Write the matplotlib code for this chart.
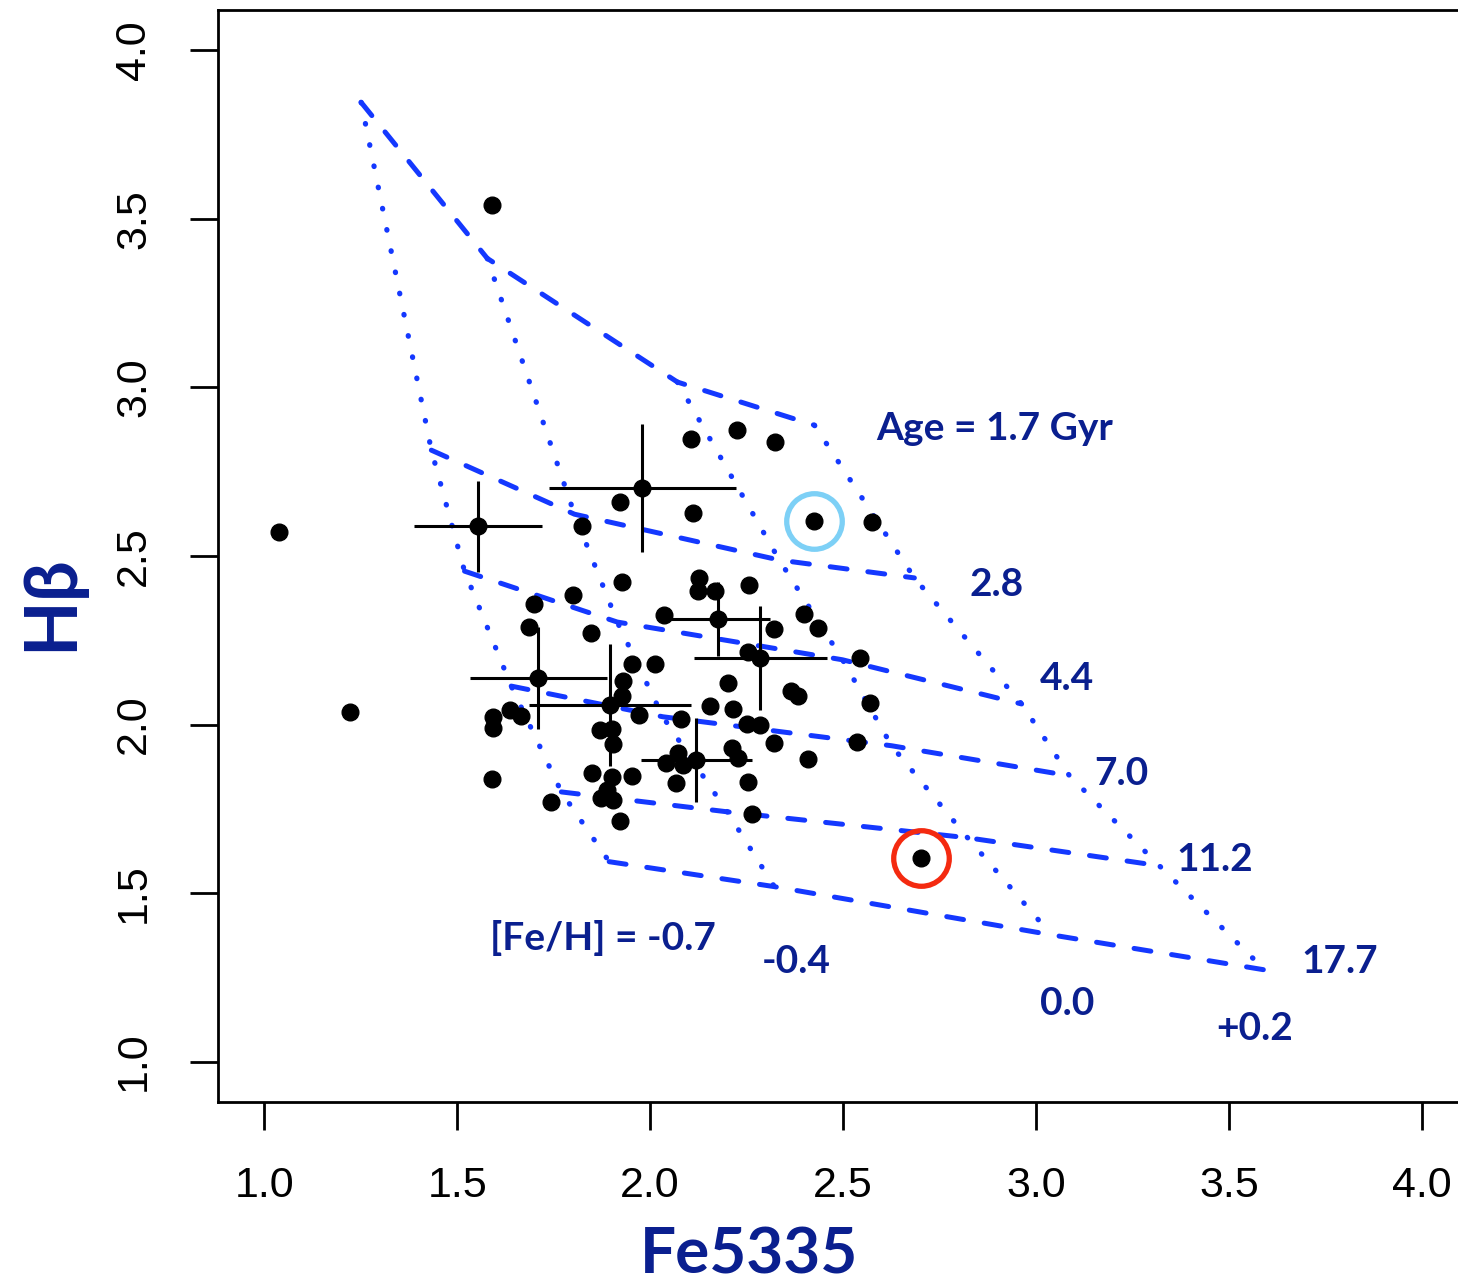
import numpy as np
import matplotlib
matplotlib.use('Agg')
import matplotlib.pyplot as plt

# model grid: rows = age (Gyr), cols = [Fe/H]
ages = ['1.7', '2.8', '4.4', '7.0', '11.2', '17.7']
metals = ['-0.7', '-0.4', '0.0', '+0.2']
grid_fe = [
    [1.251, 1.578, 2.071, 2.426],
    [1.433, 1.804, 2.335, 2.685],
    [1.519, 1.915, 2.499, 2.963],
    [1.640, 2.033, 2.626, 3.087],
    [1.770, 2.200, 2.823, 3.320],
    [1.894, 2.322, 3.040, 3.593],
]
grid_hb = [
    [3.846, 3.383, 3.016, 2.888],
    [2.814, 2.624, 2.488, 2.435],
    [2.455, 2.304, 2.192, 2.061],
    [2.114, 2.023, 1.937, 1.848],
    [1.800, 1.741, 1.664, 1.581],
    [1.593, 1.519, 1.376, 1.272],
]

# galaxies
fe5335 = [1.589, 1.039, 1.223, 2.107, 2.226, 2.325, 1.923, 2.110, 1.824, 2.576,
          2.128, 2.123, 2.167, 2.257, 1.928, 1.799, 1.700, 2.037, 1.687, 1.848,
          2.322, 2.400, 2.436, 2.255, 2.543, 1.952, 2.014, 1.931, 2.203, 1.926,
          2.364, 2.384, 2.571, 2.156, 2.216, 1.638, 1.666, 1.594, 1.594, 1.970,
          2.079, 2.250, 2.286, 1.871, 1.902, 1.905, 2.320, 2.535, 2.211, 2.229,
          2.408, 2.073, 2.042, 2.084, 1.850, 1.902, 1.954, 1.589, 2.066, 2.255,
          1.887, 1.874, 1.905, 1.744, 2.263, 1.923, 2.426, 2.703]
hbeta = [3.540, 2.571, 2.037, 2.847, 2.873, 2.838, 2.660, 2.627, 2.589, 2.601,
         2.435, 2.396, 2.396, 2.414, 2.423, 2.384, 2.358, 2.325, 2.289, 2.272,
         2.283, 2.328, 2.286, 2.215, 2.197, 2.180, 2.180, 2.129, 2.123, 2.085,
         2.100, 2.085, 2.064, 2.055, 2.046, 2.043, 2.026, 2.023, 1.990, 2.028,
         2.017, 2.002, 1.999, 1.984, 1.987, 1.942, 1.945, 1.948, 1.931, 1.901,
         1.898, 1.916, 1.886, 1.880, 1.856, 1.845, 1.848, 1.839, 1.827, 1.830,
         1.806, 1.782, 1.776, 1.770, 1.735, 1.714, 2.604, 1.604]

# galaxies with error bars
err_fe = [1.980, 1.555, 2.177, 2.286, 1.710, 1.897, 2.120]
err_hb = [2.701, 2.589, 2.313, 2.197, 2.138, 2.058, 1.895]
err_dfe = [0.242, 0.166, 0.134, 0.172, 0.178, 0.210, 0.143]
err_dhb = [0.190, 0.135, 0.111, 0.154, 0.151, 0.181, 0.125]

# highlighted galaxies
cyan_pt = (2.426, 2.604)
red_pt = (2.703, 1.604)

line_col = '#1438ff'
lab_col = '#0a1f8f'
lab_font = ['Lato', 'Open Sans', 'DejaVu Sans']

fig = plt.figure(figsize=(14.58, 12.84), dpi=100)
ax = fig.add_axes([218 / 1458, 1 - 1102 / 1284, 1250 / 1458, 1092 / 1284])

gfe = np.array(grid_fe)
ghb = np.array(grid_hb)
for i in range(len(ages)):
    ax.plot(gfe[i], ghb[i], color=line_col, lw=3.6,
            linestyle=(0, (3.4, 4.2)), dash_capstyle='round')
for j in range(len(metals)):
    ax.plot(gfe[:, j], ghb[:, j], color=line_col, lw=3.8,
            linestyle=(0, (0.1, 4.0)), dash_capstyle='round')

ax.errorbar(err_fe, err_hb, xerr=err_dfe, yerr=err_dhb, fmt='none',
            ecolor='black', elinewidth=2.2, capsize=0)
ax.plot(fe5335, hbeta, 'o', color='black', markersize=12, linestyle='none')
ax.plot(err_fe, err_hb, 'o', color='black', markersize=12, linestyle='none')

ax.plot(*cyan_pt, 'o', markersize=40, markerfacecolor='none',
        markeredgecolor='#7dd0f6', markeredgewidth=3.8)
ax.plot(*red_pt, 'o', markersize=40, markerfacecolor='none',
        markeredgecolor='#f42a10', markeredgewidth=3.8)

# grid labels
age_labels = ['Age = 1.7 Gyr', '2.8', '4.4', '7.0', '11.2', '17.7']
age_lx = [2.893, 2.899, 3.080, 3.222, 3.463, 3.787]
age_ly = [2.879, 2.414, 2.138, 1.856, 1.599, 1.297]
met_labels = ['[Fe/H] = -0.7', '-0.4', '0.0', '+0.2']
met_lx = [1.877, 2.379, 3.080, 3.567]
met_ly = [1.367, 1.296, 1.172, 1.098]
for t, x, y in zip(age_labels + met_labels, age_lx + met_lx, age_ly + met_ly):
    ax.text(x, y, t, color=lab_col, fontsize=28, fontweight='bold',
            family=lab_font, ha='center', va='center')

ax.set_xlim(0.88, 4.12)
ax.set_ylim(0.88, 4.12)
ticks = [1.0, 1.5, 2.0, 2.5, 3.0, 3.5, 4.0]
ax.set_xticks(ticks)
ax.set_yticks(ticks)
ax.set_xticklabels([f'{t:.1f}' for t in ticks])
ax.set_yticklabels([f'{t:.1f}' for t in ticks], rotation=90, va='center')
ax.tick_params(length=20, width=2, pad=26, labelsize=31, direction='out')
for lab in ax.get_xticklabels() + ax.get_yticklabels():
    lab.set_family(['Liberation Sans', 'DejaVu Sans'])
for s in ax.spines.values():
    s.set_linewidth(2)

fig.text(749 / 1458, 1 / 1284, 'Fe5335', color=lab_col, fontsize=46,
         fontweight='bold', family=lab_font, ha='center', va='bottom')
fig.text(52 / 1458, 1 - 603 / 1284, 'H\u03b2', color=lab_col, fontsize=52,
         fontweight='bold', family=lab_font, ha='center', va='center',
         rotation=90)

fig.savefig('out.png', dpi=100)
